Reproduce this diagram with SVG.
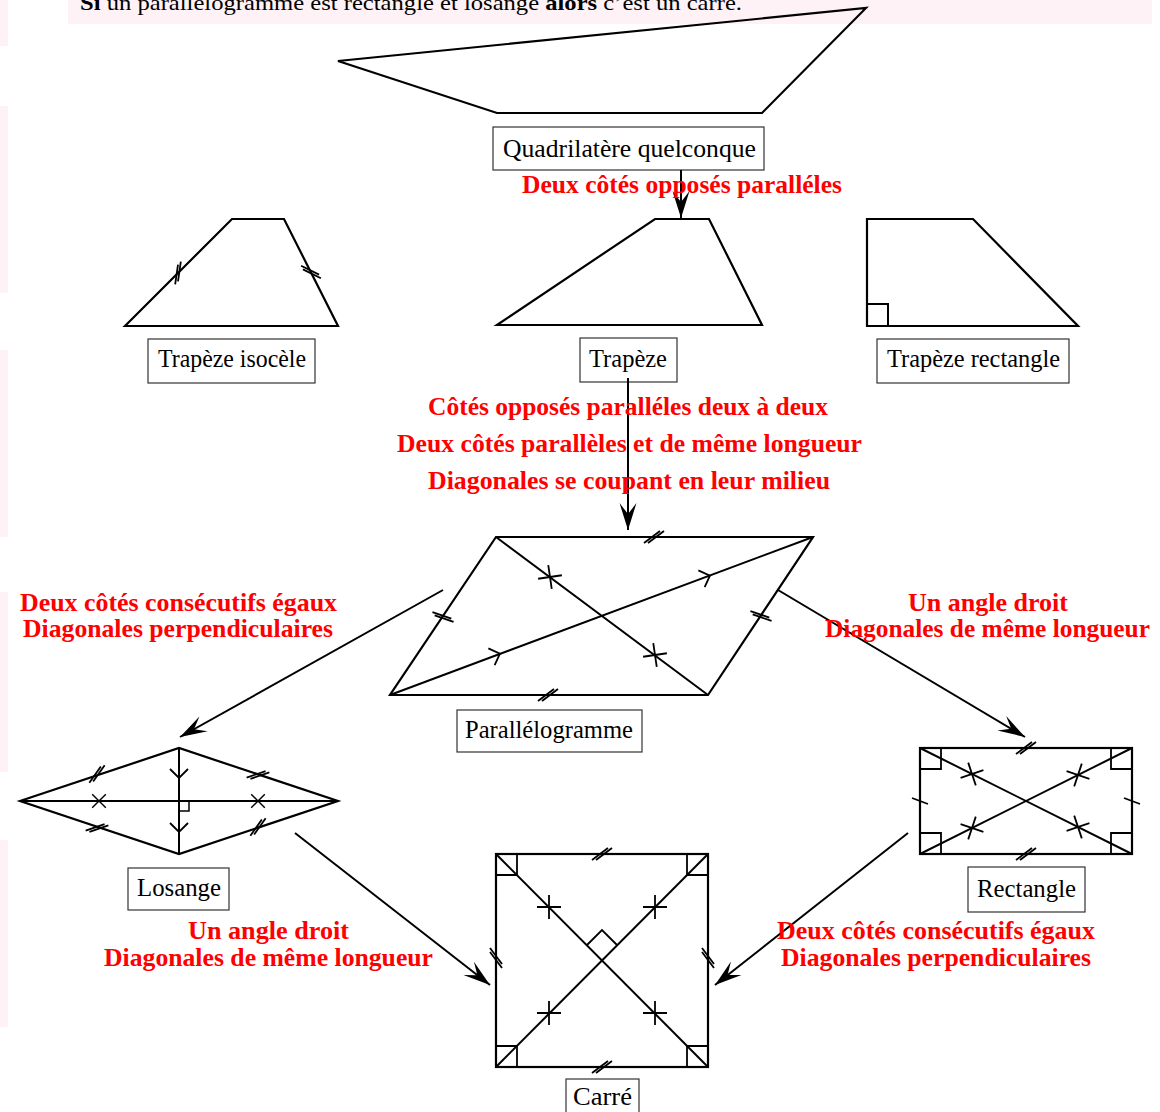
<svg xmlns="http://www.w3.org/2000/svg" xmlns:xlink="http://www.w3.org/1999/xlink" width="1160" height="1112" viewBox="0 0 1160 1112">
<style>
.fig{fill:none;stroke:#000;stroke-width:2.2;stroke-linejoin:miter}
.diag{fill:none;stroke:#000;stroke-width:2}
.mk{fill:none;stroke:#000;stroke-width:1.8}
.box{fill:#fff;stroke:#333;stroke-width:1.2}
.lbl{font-family:"Liberation Serif","Times New Roman",serif;font-size:25px;fill:#000;text-anchor:start}
.red{font-family:"Liberation Serif","Times New Roman",serif;font-size:26px;font-weight:bold;fill:#ff0000}
.con{fill:none;stroke:#000;stroke-width:2}
.band{fill:#fff2f6}
</style>
<defs>
<marker id="ah" markerUnits="userSpaceOnUse" markerWidth="30" markerHeight="20" refX="0" refY="0" viewBox="-28 -10 30 20" orient="auto" overflow="visible">
<path d="M0,0 L-27,-8.5 L-16,0 L-27,8.5 Z" fill="#000"/>
</marker>
<path id="dbl" d="M-10,6 L6,-6 M-6,6 L10,-6" class="mk"/>
<path id="xm" d="M-8.5,-8.5 L8.5,8.5 M-8.5,8.5 L8.5,-8.5" class="mk"/>
<path id="chev" d="M-8,-9 L1,0 L-8,9" class="mk"/>
</defs>

<rect x="0" y="0" width="1160" height="1112" fill="#fff"/>
<g id="bands">
<rect class="band" x="0" y="0" width="8" height="46"/>
<rect class="band" x="0" y="106" width="8" height="187"/>
<rect class="band" x="0" y="350" width="8" height="187"/>
<rect class="band" x="0" y="592" width="8" height="180"/>
<rect class="band" x="0" y="840" width="8" height="187"/>
<rect class="band" x="68" y="0" width="1084" height="24"/>
</g>
<text x="80" y="10" font-family="Liberation Serif, serif" font-size="22" textLength="662" lengthAdjust="spacingAndGlyphs"><tspan font-weight="bold">Si</tspan> un parallélogramme est rectangle et losange <tspan font-weight="bold">alors</tspan> c’est un carré.</text>

<g id="quadrilatere">
<polygon class="fig" points="338,61 866,8 762,113 497,113"/>
<rect class="box" x="493" y="127" width="271" height="43"/>
<text class="lbl" x="503" y="157" textLength="253" lengthAdjust="spacingAndGlyphs">Quadrilatère quelconque</text>
</g>

<g id="trapeze-isocele">
<polygon class="fig" points="125,326 232,219 284,219 338,326"/>
<use xlink:href="#dbl" href="#dbl" transform="translate(178,273) rotate(-45)"/>
<use xlink:href="#dbl" href="#dbl" transform="translate(311,272) rotate(63)"/>
<rect class="box" x="148" y="339" width="167" height="44"/>
<text class="lbl" x="158" y="367" textLength="148" lengthAdjust="spacingAndGlyphs">Trapèze isocèle</text>
</g>

<g id="trapeze">
<polygon class="fig" points="497,325 655,219 709,219 762,325"/>
<rect class="box" x="580" y="338" width="97" height="44"/>
<text class="lbl" x="589" y="367" textLength="78" lengthAdjust="spacingAndGlyphs">Trapèze</text>
</g>

<g id="trapeze-rectangle">
<polygon class="fig" points="867,219 973,219 1078,326 867,326"/>
<path class="mk" d="M867,304 L888,304 L888,326" style="stroke-width:2"/>
<rect class="box" x="877" y="339" width="192" height="44"/>
<text class="lbl" x="887" y="367" textLength="173" lengthAdjust="spacingAndGlyphs">Trapèze rectangle</text>
</g>

<g id="parallelogramme">
<polygon class="fig" points="496,537 813,537 708,695 390,695"/>
<line class="diag" x1="496" y1="537" x2="708" y2="695"/>
<line class="diag" x1="390" y1="695" x2="813" y2="537"/>
<use xlink:href="#dbl" href="#dbl" transform="translate(654,537)"/>
<use xlink:href="#dbl" href="#dbl" transform="translate(548,695)"/>
<use xlink:href="#dbl" href="#dbl" transform="translate(443,617) rotate(56)"/>
<use xlink:href="#dbl" href="#dbl" transform="translate(761,616) rotate(56)"/>
<use xlink:href="#xm" href="#xm" transform="translate(550,577) rotate(36.7)"/>
<use xlink:href="#xm" href="#xm" transform="translate(655,655) rotate(36.7)"/>
<use xlink:href="#chev" href="#chev" transform="translate(499,654) rotate(-20.5)"/>
<use xlink:href="#chev" href="#chev" transform="translate(709,576) rotate(-20.5)"/>
<rect class="box" x="457" y="710" width="185" height="42"/>
<text class="lbl" x="465" y="738" textLength="168" lengthAdjust="spacingAndGlyphs">Parallélogramme</text>
</g>

<g id="losange">
<polygon class="fig" points="20,801 179,748 338,801 179,854"/>
<line class="diag" x1="20" y1="801" x2="338" y2="801"/>
<line class="diag" x1="179" y1="748" x2="179" y2="854"/>
<path class="mk" d="M179,811 L189,811 L189,801" style="stroke-width:1.5"/>
<use xlink:href="#dbl" href="#dbl" transform="translate(97,774) rotate(-18)"/>
<use xlink:href="#dbl" href="#dbl" transform="translate(258,775) rotate(18)"/>
<use xlink:href="#dbl" href="#dbl" transform="translate(97,828) rotate(18)"/>
<use xlink:href="#dbl" href="#dbl" transform="translate(258,827) rotate(-18)"/>
<use xlink:href="#xm" href="#xm" transform="translate(99,801) scale(0.8)"/>
<use xlink:href="#xm" href="#xm" transform="translate(258,801) scale(0.8)"/>
<use xlink:href="#chev" href="#chev" transform="translate(179,777) rotate(90)"/>
<use xlink:href="#chev" href="#chev" transform="translate(179,831) rotate(90)"/>
<rect class="box" x="128" y="868" width="101" height="42"/>
<text class="lbl" x="137" y="896" textLength="84" lengthAdjust="spacingAndGlyphs">Losange</text>
</g>

<g id="rectangle">
<rect class="fig" x="920" y="748" width="212" height="106"/>
<line class="diag" x1="920" y1="748" x2="1132" y2="854"/>
<line class="diag" x1="920" y1="854" x2="1132" y2="748"/>
<path class="mk" d="M920,769 L941,769 L941,748 M1111,748 L1111,769 L1132,769 M920,833 L941,833 L941,854 M1111,854 L1111,833 L1132,833"/>
<use xlink:href="#dbl" href="#dbl" transform="translate(1026,748)"/>
<use xlink:href="#dbl" href="#dbl" transform="translate(1026,854)"/>
<path class="mk" d="M912,798 L928,804 M1124,798 L1140,804"/>
<use xlink:href="#xm" href="#xm" transform="translate(972,774) rotate(26.6)"/>
<use xlink:href="#xm" href="#xm" transform="translate(1078,827) rotate(26.6)"/>
<use xlink:href="#xm" href="#xm" transform="translate(972,828) rotate(-26.6)"/>
<use xlink:href="#xm" href="#xm" transform="translate(1078,775) rotate(-26.6)"/>
<rect class="box" x="968" y="867" width="117" height="45"/>
<text class="lbl" x="977" y="897" textLength="99" lengthAdjust="spacingAndGlyphs">Rectangle</text>
</g>

<g id="carre">
<rect class="fig" x="496" y="854" width="212" height="213"/>
<line class="diag" x1="496" y1="854" x2="708" y2="1067"/>
<line class="diag" x1="496" y1="1067" x2="708" y2="854"/>
<path class="mk" d="M496,875 L517,875 L517,854 M687,854 L687,875 L708,875 M496,1046 L517,1046 L517,1067 M687,1067 L687,1046 L708,1046"/>
<path class="mk" d="M587,945 L602,930 L617,945"/>
<use xlink:href="#dbl" href="#dbl" transform="translate(602,854)"/>
<use xlink:href="#dbl" href="#dbl" transform="translate(602,1067)"/>
<use xlink:href="#dbl" href="#dbl" transform="translate(496,958) rotate(90)"/>
<use xlink:href="#dbl" href="#dbl" transform="translate(708,958) rotate(90)"/>
<use xlink:href="#xm" href="#xm" transform="translate(549,907) rotate(45)"/>
<use xlink:href="#xm" href="#xm" transform="translate(655,907) rotate(45)"/>
<use xlink:href="#xm" href="#xm" transform="translate(549,1013) rotate(45)"/>
<use xlink:href="#xm" href="#xm" transform="translate(655,1013) rotate(45)"/>
<rect class="box" x="566" y="1079" width="73" height="40"/>
<text class="lbl" x="573" y="1105" textLength="59" lengthAdjust="spacingAndGlyphs">Carré</text>
</g>

<g id="connectors">
<line class="con" x1="681" y1="170" x2="681" y2="218" marker-end="url(#ah)"/>
<line class="con" x1="628" y1="378" x2="628" y2="530" marker-end="url(#ah)"/>
<line class="con" x1="443" y1="590" x2="180" y2="737" marker-end="url(#ah)"/>
<line class="con" x1="778" y1="590" x2="1025" y2="737" marker-end="url(#ah)"/>
<line class="con" x1="295" y1="833" x2="490" y2="985" marker-end="url(#ah)"/>
<line class="con" x1="908" y1="833" x2="715" y2="985" marker-end="url(#ah)"/>
</g>

<g id="labels">
<text class="red" x="522" y="193" textLength="320" lengthAdjust="spacingAndGlyphs">Deux côtés opposés paralléles</text>
<text class="red" x="428" y="415" textLength="400" lengthAdjust="spacingAndGlyphs">Côtés opposés paralléles deux à deux</text>
<text class="red" x="397" y="452" textLength="465" lengthAdjust="spacingAndGlyphs">Deux côtés parallèles et de même longueur</text>
<text class="red" x="428" y="489" textLength="402" lengthAdjust="spacingAndGlyphs">Diagonales se coupant en leur milieu</text>
<text class="red" x="20" y="611" textLength="317" lengthAdjust="spacingAndGlyphs">Deux côtés consécutifs égaux</text>
<text class="red" x="23" y="637" textLength="310" lengthAdjust="spacingAndGlyphs">Diagonales perpendiculaires</text>
<text class="red" x="908" y="611" textLength="160" lengthAdjust="spacingAndGlyphs">Un angle droit</text>
<text class="red" x="825" y="637" textLength="325" lengthAdjust="spacingAndGlyphs">Diagonales de même longueur</text>
<text class="red" x="188" y="939" textLength="161" lengthAdjust="spacingAndGlyphs">Un angle droit</text>
<text class="red" x="104" y="966" textLength="329" lengthAdjust="spacingAndGlyphs">Diagonales de même longueur</text>
<text class="red" x="777" y="939" textLength="318" lengthAdjust="spacingAndGlyphs">Deux côtés consécutifs égaux</text>
<text class="red" x="781" y="966" textLength="310" lengthAdjust="spacingAndGlyphs">Diagonales perpendiculaires</text>
</g>
</svg>
